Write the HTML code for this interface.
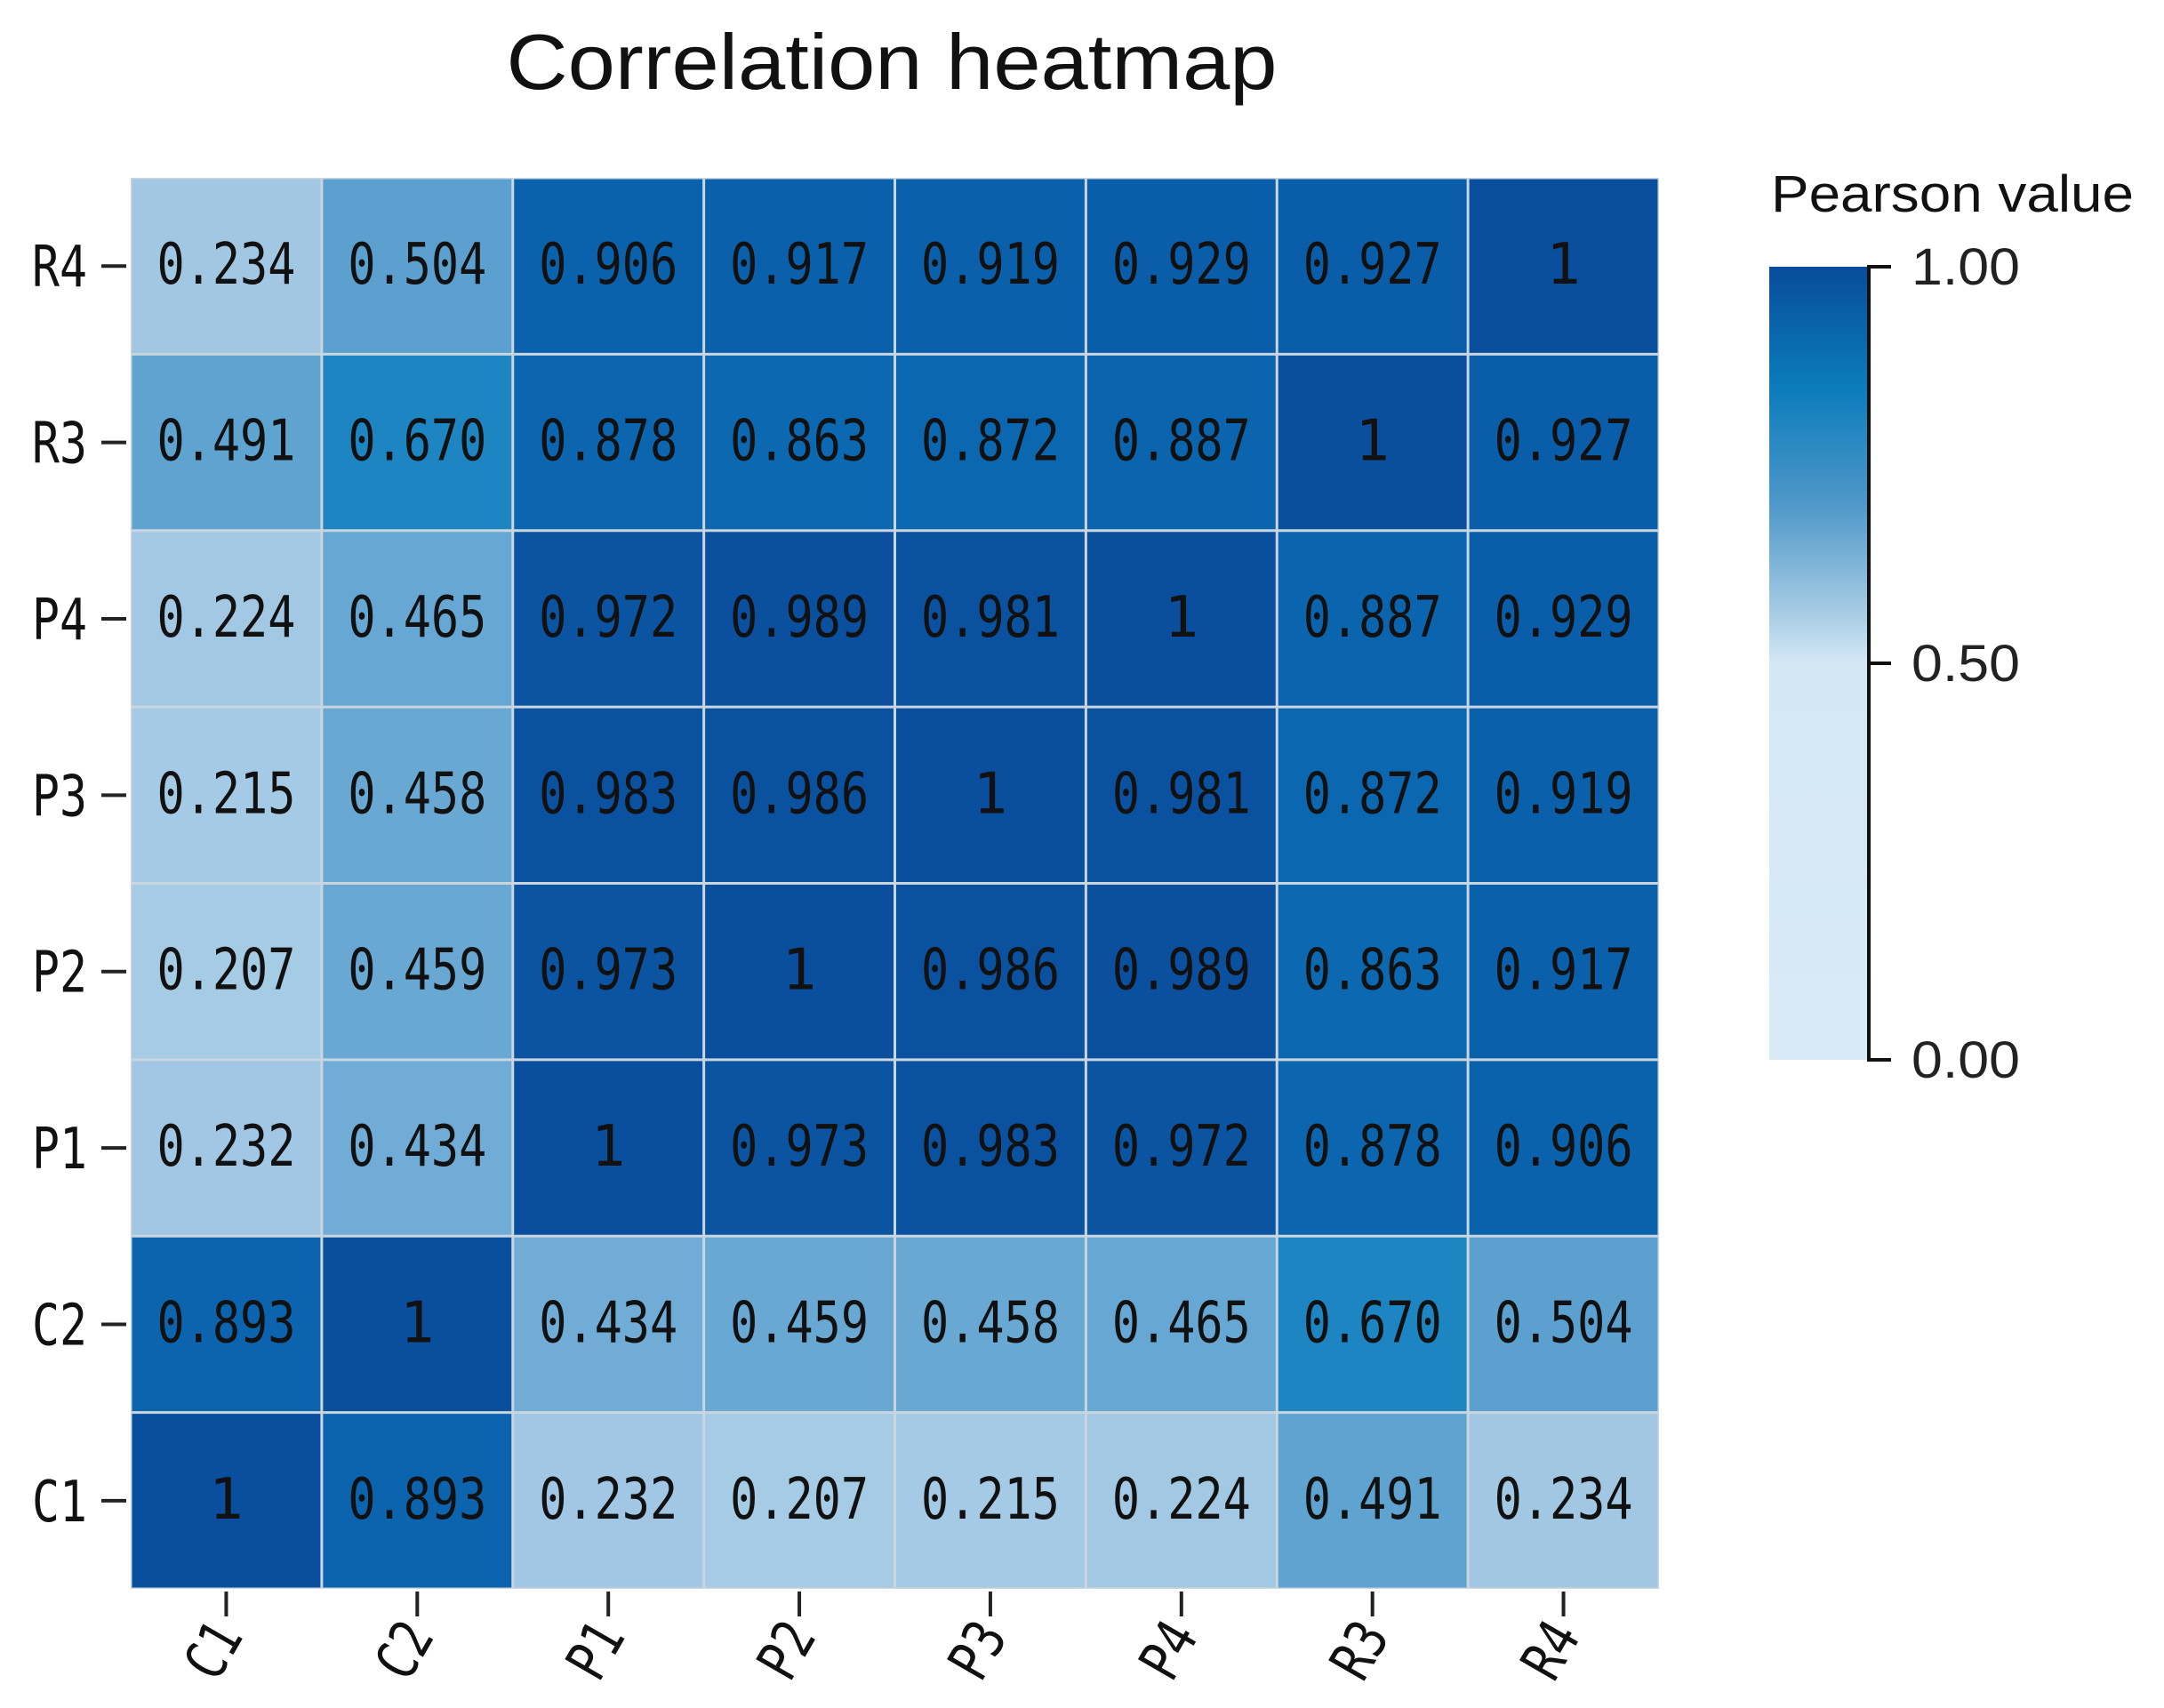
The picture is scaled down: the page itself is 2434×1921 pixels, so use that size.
<!DOCTYPE html>
<html><head><meta charset="utf-8"><style>
html,body{margin:0;padding:0;background:#fff;}
svg{display:block;}
</style></head><body>
<svg id="chart" width="2434" height="1921" viewBox="0 0 2434 1921" xmlns="http://www.w3.org/2000/svg">
<defs>
<linearGradient id="cbar" x1="0" y1="1" x2="0" y2="0">
<stop offset="0" stop-color="#d8eaf6"/>
<stop offset="0.5" stop-color="#d4e7f5"/>
<stop offset="0.56" stop-color="#a9cde5"/>
<stop offset="0.7" stop-color="#4f98c9"/>
<stop offset="0.85" stop-color="#0a7bbb"/>
<stop offset="1" stop-color="#084c9b"/>
</linearGradient>
</defs>
<text x="1003" y="100" font-family="Liberation Sans, sans-serif" font-size="88" text-anchor="middle" textLength="867" lengthAdjust="spacingAndGlyphs" fill="#111">Correlation heatmap</text>
<g id="cells"></g>
<g id="yaxis"></g>
<g id="xaxis"></g>
<g>
<text x="1992" y="238" font-family="Liberation Sans, sans-serif" font-size="58" textLength="408" lengthAdjust="spacingAndGlyphs" fill="#111">Pearson value</text>
<rect x="1990" y="300" width="110" height="892" fill="url(#cbar)"/>
<line x1="2102" y1="300" x2="2102" y2="1192" stroke="#111" stroke-width="4"/>
<g id="cbticks"></g>
</g>
</svg>
<script>
const rowLabels = ["R4","R3","P4","P3","P2","P1","C2","C1"];
const colLabels = ["C1","C2","P1","P2","P3","P4","R3","R4"];
const rowR4 = [0.234,0.504,0.906,0.917,0.919,0.929,0.927,1];
const rowR3 = [0.491,0.670,0.878,0.863,0.872,0.887,1,0.927];
const rowP4 = [0.224,0.465,0.972,0.989,0.981,1,0.887,0.929];
const rowP3 = [0.215,0.458,0.983,0.986,1,0.981,0.872,0.919];
const rowP2 = [0.207,0.459,0.973,1,0.986,0.989,0.863,0.917];
const rowP1 = [0.232,0.434,1,0.973,0.983,0.972,0.878,0.906];
const rowC2 = [0.893,1,0.434,0.459,0.458,0.465,0.670,0.504];
const rowC1 = [1,0.893,0.232,0.207,0.215,0.224,0.491,0.234];
const legendTicks = [1.00,0.50,0.00];

const matrix = [rowR4,rowR3,rowP4,rowP3,rowP2,rowP1,rowC2,rowC1];
const NS = "http://www.w3.org/2000/svg";
const L = 147, R = 1866, T = 200, B = 1787;
const cw = (R - L) / colLabels.length, ch = (B - T) / rowLabels.length;
function xPos(i){ return L + i * cw; }
function yPos(j){ return T + j * ch; }
const stops = [[0.2,[167,204,230]],[0.24,[160,198,227]],[0.43,[114,173,214]],[0.5,[92,161,207]],[0.67,[29,134,194]],[0.87,[11,103,176]],[0.93,[10,94,169]],[0.98,[10,82,160]],[1,[10,78,158]]];
function color(v){
  if (v <= stops[0][0]) return "rgb(" + stops[0][1].join(",") + ")";
  for (let k = 1; k < stops.length; k++) {
    if (v <= stops[k][0]) {
      const a = stops[k-1], b = stops[k], t = (v - a[0]) / (b[0] - a[0]);
      return "rgb(" + a[1].map((c, i) => Math.round(c + (b[1][i] - c) * t)).join(",") + ")";
    }
  }
  return "rgb(" + stops[stops.length-1][1].join(",") + ")";
}
function mk(tag, attrs, parent){
  const e = document.createElementNS(NS, tag);
  for (const k in attrs) e.setAttribute(k, attrs[k]);
  parent.appendChild(e); return e;
}
const cells = document.getElementById("cells");
mk("rect",{x:L,y:T,width:R-L,height:B-T,fill:"#c9d6e0"},cells);
matrix.forEach((row, j) => {
  row.forEach((v, i) => {
    const r = mk("rect",{x:xPos(i)+1.5,y:yPos(j)+1.5,width:cw-3,height:ch-3,fill:color(v)},cells);
    
    
    const s = (v === 1) ? "1" : v.toFixed(3);
    const attrs = {x:xPos(i)+cw/2,y:yPos(j)+ch/2+20,"text-anchor":"middle","font-family":"DejaVu Sans Mono, Liberation Mono, monospace","font-size":64,fill:"#111"};
    if (s.length > 1) { attrs.textLength = 156; attrs.lengthAdjust = "spacingAndGlyphs"; }
    const t = mk("text",attrs,cells);
    t.textContent = s;
    
    
  });
});
const yaxis = document.getElementById("yaxis");
rowLabels.forEach((lab, j) => {
  const cy = yPos(j) + ch/2;
  mk("line",{x1:114,y1:cy,x2:142,y2:cy,stroke:"#222","stroke-width":4},yaxis);
  const t = mk("text",{x:98,y:cy+23,"text-anchor":"end","font-family":"DejaVu Sans Mono, Liberation Mono, monospace","font-size":64,textLength:62,lengthAdjust:"spacingAndGlyphs",fill:"#111"},yaxis);
  t.textContent = lab;
  
  
});
const xaxis = document.getElementById("xaxis");
colLabels.forEach((lab, i) => {
  const cx = xPos(i) + cw/2;
  mk("line",{x1:cx,y1:1790,x2:cx,y2:1818,stroke:"#222","stroke-width":4},xaxis);
  const t = mk("text",{x:0,y:0,"text-anchor":"end","font-family":"DejaVu Sans Mono, Liberation Mono, monospace","font-size":64,textLength:62,lengthAdjust:"spacingAndGlyphs",fill:"#111",transform:"translate("+(cx+20)+",1840) rotate(-60)"},xaxis);
  t.textContent = lab;
  
  
});
const cb = document.getElementById("cbticks");
legendTicks.forEach(v => {
  const y = 1192 - v * (1192 - 300);
  mk("line",{x1:2100,y1:y,x2:2127,y2:y,stroke:"#111","stroke-width":4},cb);
  const t = mk("text",{x:2150,y:y+20,"font-family":"Liberation Sans, sans-serif","font-size":58,textLength:122,lengthAdjust:"spacingAndGlyphs",fill:"#222"},cb);
  t.textContent = v.toFixed(2);
  
  
});
</script>
</body></html>
